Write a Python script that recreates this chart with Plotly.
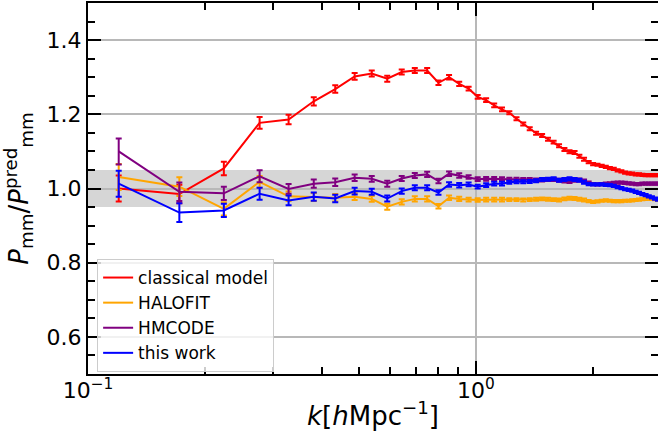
import plotly.graph_objects as go
import math

k = [0.120, 0.172, 0.224, 0.277, 0.329, 0.382, 0.434, 0.487, 0.539, 0.591,
     0.644, 0.696, 0.749, 0.801, 0.853, 0.906, 0.958, 1.011, 1.063, 1.115,
     1.168, 1.220, 1.273, 1.325, 1.377, 1.430, 1.482, 1.535, 1.587, 1.639,
     1.692, 1.744, 1.797, 1.849, 1.901, 1.954, 2.006, 2.059, 2.111, 2.163,
     2.216, 2.268, 2.321, 2.373, 2.425, 2.478, 2.530, 2.583, 2.635, 2.687,
     2.740, 2.792, 2.845, 2.897, 2.949]

classical = [1.000, 0.985, 1.054, 1.177, 1.186, 1.235, 1.268, 1.302, 1.310, 1.296,
             1.314, 1.318, 1.318, 1.285, 1.300, 1.282, 1.269, 1.247, 1.238, 1.224,
             1.213, 1.204, 1.188, 1.174, 1.161, 1.149, 1.143, 1.133, 1.125, 1.115,
             1.105, 1.099, 1.097, 1.087, 1.079, 1.071, 1.066, 1.064, 1.061, 1.058,
             1.055, 1.053, 1.049, 1.046, 1.043, 1.041, 1.040, 1.038, 1.038, 1.037,
             1.036, 1.036, 1.036, 1.036, 1.036]

halofit = [1.031, 1.005, 0.945, 1.018, 0.979, 0.977, 0.975, 0.978, 0.972, 0.951,
           0.964, 0.972, 0.972, 0.952, 0.975, 0.972, 0.970, 0.969, 0.970, 0.970,
           0.970, 0.970, 0.970, 0.969, 0.970, 0.971, 0.972, 0.971, 0.970, 0.969,
           0.972, 0.974, 0.973, 0.971, 0.969, 0.966, 0.964, 0.965, 0.967, 0.968,
           0.967, 0.966, 0.966, 0.966, 0.967, 0.967, 0.968, 0.969, 0.970, 0.971,
           0.972, 0.973, 0.972, 0.971, 0.970]

hmcode = [1.100, 0.991, 0.987, 1.033, 0.999, 1.013, 1.017, 1.029, 1.026, 1.013,
          1.027, 1.035, 1.038, 1.020, 1.040, 1.035, 1.031, 1.025, 1.026, 1.026,
          1.025, 1.025, 1.025, 1.024, 1.024, 1.023, 1.023, 1.024, 1.024, 1.022,
          1.020, 1.019, 1.022, 1.023, 1.020, 1.016, 1.012, 1.011, 1.012, 1.013,
          1.014, 1.015, 1.016, 1.016, 1.015, 1.014, 1.013, 1.012, 1.012, 1.013,
          1.013, 1.013, 1.013, 1.013, 1.013]

this_work = [1.013, 0.935, 0.941, 0.986, 0.968, 0.978, 0.973, 0.993, 0.991, 0.973,
             0.993, 1.002, 1.002, 0.989, 1.011, 1.009, 1.011, 1.005, 1.009, 1.013,
             1.013, 1.017, 1.018, 1.018, 1.019, 1.021, 1.024, 1.025, 1.026, 1.022,
             1.024, 1.026, 1.024, 1.022, 1.017, 1.012, 1.011, 1.011, 1.011, 1.010,
             1.009, 1.007, 1.004, 1.001, 0.998, 0.996, 0.994, 0.991, 0.988, 0.985,
             0.982, 0.979, 0.976, 0.973, 0.970]

err = [0.035, 0.025, 0.018, 0.016, 0.013, 0.011, 0.010, 0.009, 0.008, 0.008,
       0.007, 0.007, 0.007, 0.006, 0.006, 0.006, 0.005, 0.005, 0.005, 0.005,
       0.005, 0.004, 0.004, 0.004, 0.004, 0.004, 0.004, 0.004, 0.004, 0.004,
       0.004, 0.004, 0.004, 0.004, 0.004, 0.003, 0.003, 0.003, 0.003, 0.003,
       0.003, 0.003, 0.003, 0.003, 0.003, 0.003, 0.003, 0.003, 0.003, 0.003,
       0.003, 0.003, 0.003, 0.003, 0.003]

series = [("classical model", classical, "red"),
          ("HALOFIT", halofit, "orange"),
          ("HMCODE", hmcode, "purple"),
          ("this work", this_work, "blue")]

x_major = [0.1, 1.0]
x_major_text = ["10<sup>\u22121</sup>", "10<sup>0</sup>"]
x_minor = [0.2, 0.3, 0.4, 0.5, 0.6, 0.7, 0.8, 0.9, 2.0]
y_major = [0.6, 0.8, 1.0, 1.2, 1.4]
y_minor = [0.55, 0.65, 0.7, 0.75, 0.85, 0.9, 0.95, 1.05, 1.1, 1.15, 1.25, 1.3, 1.35, 1.45]
band = [0.95, 1.05]
x_range = [0.1, 2.949]
y_range = [0.5, 1.5]

fig = go.Figure()
for name, vals, col in series:
    fig.add_trace(go.Scatter(
        x=k, y=vals, name=name, mode="lines",
        line=dict(color=col, width=2),
        error_y=dict(type="data", array=err, visible=True, color=col,
                     thickness=2, width=3),
    ))

fig.add_shape(type="rect", xref="paper", yref="y", x0=0, x1=1,
              y0=band[0], y1=band[1], fillcolor="#d6d6d6",
              line=dict(width=0), layer="below")

font = "DejaVu Sans"
common_tick = dict(ticks="inside", ticklen=13, tickwidth=2, tickcolor="black")
minor_tick = dict(ticks="inside", ticklen=7, tickwidth=2, tickcolor="black", showgrid=False)

fig.update_layout(
    width=658, height=441,
    margin=dict(l=88, r=0, t=3, b=67),
    plot_bgcolor="white", paper_bgcolor="white",
    font=dict(family=font, size=22, color="black"),
    showlegend=True,
    legend=dict(x=0.016, y=0.31, xanchor="left", yanchor="top",
                bgcolor="rgba(255,255,255,0.8)", bordercolor="#cccccc",
                borderwidth=1, font=dict(size=17, family=font),
                tracegroupgap=0, itemwidth=30),
    xaxis=dict(type="log", range=[math.log10(x_range[0]), math.log10(x_range[1])],
               tickmode="array", tickvals=x_major, ticktext=x_major_text,
               showgrid=True, gridcolor="#b8b8b8", gridwidth=1.5,
               showline=True, linecolor="black", linewidth=2, mirror=False,
               zeroline=False, tickfont=dict(size=22), ticklabelstandoff=-4,
               minor=dict(tickmode="array", tickvals=x_minor, **minor_tick),
               title=dict(text="<i>k</i>[<i>h</i>Mpc<sup>\u22121</sup>]",
                          font=dict(size=26), standoff=4),
               **common_tick),
    yaxis=dict(range=y_range, tickmode="array", tickvals=y_major,
               ticktext=[f"{v:.1f}" for v in y_major],
               showgrid=True, gridcolor="#b8b8b8", gridwidth=1.5,
               showline=True, linecolor="black", linewidth=2, mirror=False,
               zeroline=False, tickfont=dict(size=22),
               minor=dict(tickmode="array", tickvals=y_minor, **minor_tick),
               title=dict(text="<i>P</i><sub>mm</sub>/<i>P</i><sup>pred</sup><sub>mm</sub>",
                          font=dict(size=26), standoff=12),
               **common_tick),
    xaxis2=dict(type="log", overlaying="x", side="top",
                range=[math.log10(x_range[0]), math.log10(x_range[1])],
                tickmode="array", tickvals=x_major, showticklabels=False,
                showgrid=False, zeroline=False,
                showline=True, linecolor="black", linewidth=2,
                minor=dict(tickmode="array", tickvals=x_minor, **minor_tick),
                **common_tick),
    yaxis2=dict(overlaying="y", side="right", range=y_range,
                tickmode="array", tickvals=y_major, showticklabels=False,
                showgrid=False, zeroline=False, showline=False,
                minor=dict(tickmode="array", tickvals=y_minor, **minor_tick),
                **common_tick),
)

# invisible trace to activate the mirrored axes
fig.add_trace(go.Scatter(x=[k[0]], y=[classical[0]], xaxis="x2", yaxis="y2",
                         mode="markers", marker=dict(opacity=0), showlegend=False,
                         hoverinfo="skip"))

fig.write_html("out.html")
